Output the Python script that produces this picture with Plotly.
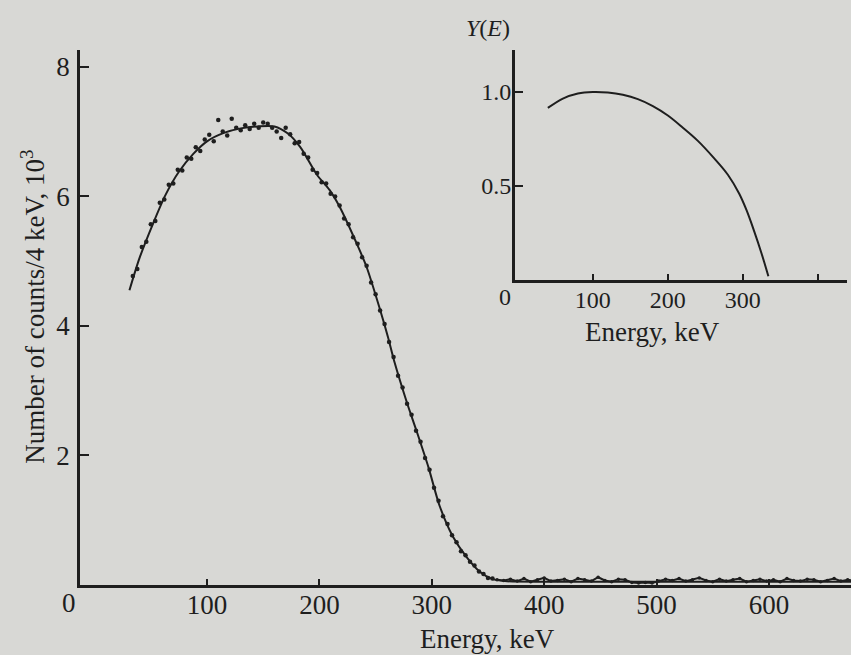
import plotly.graph_objects as go

# ---------------- data ----------------
# smooth fitted spectrum (counts / 4 keV, in units of 10^3)
fit_energy = [31, 40, 52, 63, 75, 88, 100, 115, 130, 145, 160, 172, 183, 198, 209, 218,
              233, 242, 254, 261, 267, 278, 287, 297, 307, 319, 331, 343, 354, 365,
              400, 450, 500, 550, 600, 650, 680]
fit_counts = [4.55, 5.05, 5.58, 6.02, 6.38, 6.66, 6.85, 6.98, 7.05, 7.08, 7.08, 6.97, 6.76,
              6.33, 6.10, 5.84, 5.28, 4.91, 4.25, 3.83, 3.43, 2.81, 2.35, 1.82, 1.22, 0.74,
              0.43, 0.20, 0.09, 0.06, 0.05, 0.05, 0.05, 0.05, 0.05, 0.05, 0.05]

# measured points
meas_energy = [34, 38, 42, 46, 50, 54, 58, 62, 66, 70, 74, 78, 82, 86, 90, 94, 98, 102, 106,
               110, 114, 118, 122, 126, 130, 134, 138, 142, 146, 150, 154, 158, 162, 166,
               170, 174, 178, 182, 186, 190, 194, 198, 202, 206, 210, 214, 218, 222, 226,
               230, 234, 238, 242, 246, 250, 254, 258, 262, 266, 270, 274, 278, 282, 286,
               290, 294, 298, 302, 306, 310, 314, 318, 322, 326, 330, 334, 338, 342, 346,
               350, 354]
meas_counts = [4.77, 4.88, 5.22, 5.30, 5.57, 5.62, 5.90, 5.95, 6.18, 6.20, 6.41, 6.40, 6.60,
               6.58, 6.76, 6.70, 6.88, 6.95, 6.85, 7.18, 7.00, 6.94, 7.20, 7.06, 7.02, 7.10,
               7.04, 7.12, 7.06, 7.14, 7.12, 7.06, 7.00, 6.90, 7.06, 6.96, 6.82, 6.84, 6.66,
               6.60, 6.41, 6.36, 6.22, 6.20, 6.04, 6.00, 5.86, 5.66, 5.57, 5.37, 5.27, 5.06,
               4.93, 4.67, 4.49, 4.24, 4.03, 3.75, 3.52, 3.23, 3.05, 2.80, 2.63, 2.38, 2.21,
               1.96, 1.78, 1.50, 1.30, 1.06, 0.94, 0.77, 0.66, 0.52, 0.46, 0.36, 0.30, 0.21,
               0.17, 0.11, 0.10]

tail_energy = [358, 364, 370, 376, 382, 388, 394, 400, 406, 412, 418, 424, 430, 436, 442,
               448, 454, 460, 466, 472, 478, 484, 490, 496, 502, 508, 514, 520, 526, 532,
               538, 544, 550, 556, 562, 568, 574, 580, 586, 592, 598, 604, 610, 616, 622,
               628, 634, 640, 646, 652, 658, 664, 670, 676]
tail_counts = [0.08, 0.07, 0.09, 0.06, 0.10, 0.05, 0.08, 0.11, 0.06, 0.07, 0.09, 0.05, 0.10,
               0.08, 0.06, 0.12, 0.07, 0.05, 0.09, 0.08, 0.04, 0.03, 0.04, 0.03, 0.06, 0.09,
               0.07, 0.10, 0.06, 0.08, 0.11, 0.07, 0.05, 0.09, 0.06, 0.08, 0.10, 0.05, 0.07,
               0.09, 0.06, 0.08, 0.05, 0.10, 0.07, 0.06, 0.09, 0.08, 0.05, 0.07, 0.10, 0.06,
               0.08, 0.07]

# inset: detector efficiency Y(E)
inset_energy = [40, 60, 80, 100, 120, 140, 160, 180, 200, 220, 240, 260, 280, 295, 305, 315, 325, 334]
inset_y = [0.915, 0.965, 0.992, 1.0, 0.997, 0.985, 0.962, 0.925, 0.875, 0.81, 0.74, 0.655,
           0.56, 0.46, 0.37, 0.26, 0.14, 0.02]

main_xticks = [100, 200, 300, 400, 500, 600]
main_yticks = [2, 4, 6, 8]
inset_xticks = [100, 200, 300]
inset_minor_xticks = [400]
inset_yticks = [0.5, 1.0]
inset_yticktext = ["0.5", "1.0"]

# ---------------- style ----------------
BG = "#d8d8d5"
INK = "#1e1e1e"
FONT = "Liberation Serif"

fig = go.Figure()

fig.add_trace(go.Scatter(x=fit_energy, y=fit_counts, mode="lines",
                         line=dict(color=INK, width=2, shape="spline", smoothing=0.8),
                         hoverinfo="skip", showlegend=False))
fig.add_trace(go.Scatter(x=meas_energy, y=meas_counts, mode="markers",
                         marker=dict(color=INK, size=4.5), showlegend=False))
fig.add_trace(go.Scatter(x=tail_energy, y=tail_counts, mode="lines+markers",
                         line=dict(color=INK, width=2),
                         marker=dict(color=INK, size=3.5), showlegend=False))

fig.add_trace(go.Scatter(x=inset_energy, y=inset_y, mode="lines", xaxis="x2", yaxis="y2",
                         line=dict(color=INK, width=2, shape="spline", smoothing=1.0),
                         showlegend=False))

axis_common = dict(showgrid=False, zeroline=False, showline=True, linecolor=INK,
                   linewidth=2.5, ticks="inside", tickcolor=INK, tickwidth=1.5,
                   tickfont=dict(family=FONT, size=27, color=INK))

fig.update_layout(
    width=851, height=655,
    margin=dict(l=80, r=0, t=50, b=70),
    paper_bgcolor=BG, plot_bgcolor=BG,
    font=dict(family=FONT, color=INK),
    xaxis=dict(axis_common, range=[-13, 673], tickvals=main_xticks, ticklen=6,
               domain=[0, 1], ticklabelstandoff=-6),
    yaxis=dict(axis_common, range=[0, 8.26], tickvals=main_yticks, ticklen=9,
               domain=[0, 1], ticklabelstandoff=2),
    xaxis2=dict(axis_common, range=[-4, 439], tickvals=inset_xticks,
                ticklen=6, domain=[0.564, 0.995], anchor="y2", ticklabelstandoff=-4,
                minor=dict(tickvals=inset_minor_xticks, ticks="inside", ticklen=6,
                           tickcolor=INK, tickwidth=1.5),
                tickfont=dict(family=FONT, size=24, color=INK)),
    yaxis2=dict(axis_common, range=[0, 1.223], tickvals=inset_yticks, ticktext=inset_yticktext,
                ticklen=8, domain=[0.570, 1.0], anchor="x2", ticklabelstandoff=-4,
                tickfont=dict(family=FONT, size=24, color=INK)),
    annotations=[
        dict(text="0", x=-0.014, y=-0.034, xref="paper", yref="paper", showarrow=False,
             font=dict(family=FONT, size=27, color=INK), xanchor="center", yanchor="middle"),
        dict(text="Energy, keV", x=0.528, y=-0.1, xref="paper", yref="paper", showarrow=False,
             font=dict(family=FONT, size=27, color=INK), xanchor="center", yanchor="middle"),
        dict(text="Number of counts/4 keV, 10<sup>3</sup>", x=-0.061, y=0.52, xref="paper",
             yref="paper", showarrow=False, textangle=-90,
             font=dict(family=FONT, size=27, color=INK), xanchor="center", yanchor="middle"),
        dict(text="0", x=0.551, y=0.538, xref="paper", yref="paper", showarrow=False,
             font=dict(family=FONT, size=24, color=INK), xanchor="center", yanchor="middle"),
        dict(text="<i>Y</i>(<i>E</i>)", x=0.529, y=1.041, xref="paper", yref="paper",
             showarrow=False, font=dict(family=FONT, size=24, color=INK),
             xanchor="center", yanchor="middle"),
        dict(text="Energy, keV", x=0.743, y=0.473, xref="paper", yref="paper", showarrow=False,
             font=dict(family=FONT, size=27, color=INK), xanchor="center", yanchor="middle"),
    ],
)

fig.write_html("out.html", config={"displayModeBar": False},
               post_script="document.body.style.margin='0';document.body.style.background='#d8d8d5';")
